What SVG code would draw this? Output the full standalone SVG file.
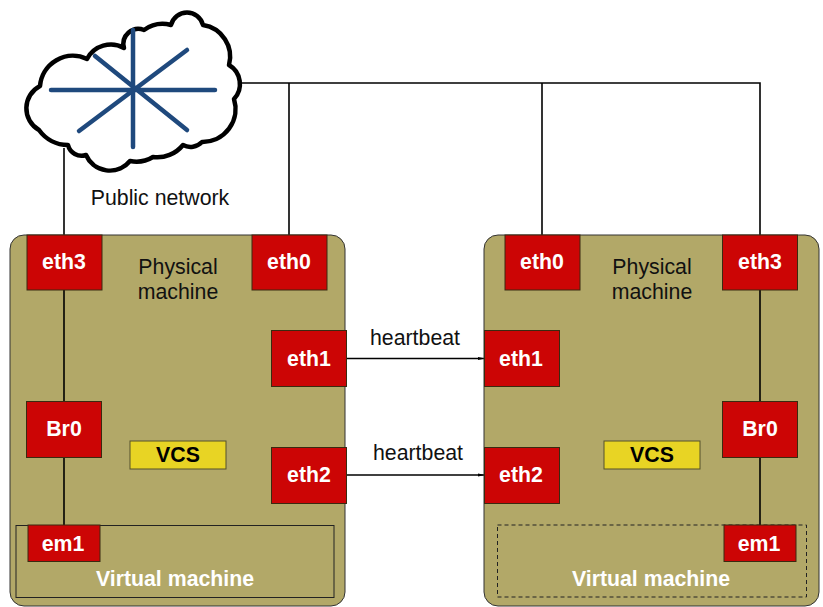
<svg xmlns="http://www.w3.org/2000/svg" width="823" height="607" viewBox="0 0 823 607">
<defs>
<style>
text{font-family:"Liberation Sans",Arial,sans-serif}
.host{fill:#b2a868;stroke:#333;stroke-width:1}
.nic{fill:#cc0505;stroke:#3a2a10;stroke-width:1}
.w{fill:#fff;font-weight:bold;font-size:21.3px;text-anchor:middle}
.k{fill:#111;font-size:21.3px;text-anchor:middle}
.vcs{fill:#e8d424;stroke:#55502a;stroke-width:1}
.vm{fill:none;stroke:#222;stroke-width:1}
.line{fill:none;stroke:#000;stroke-width:1.6}
.spoke{stroke:#1f497d;stroke-width:4.5;stroke-linecap:round}
</style>
<marker id="arrow" markerUnits="userSpaceOnUse" markerWidth="7" markerHeight="6" refX="7" refY="3" orient="auto"><path d="M0,1.500L7,3L0,4.500Z" fill="#000"/></marker>
</defs>
<g id="connectors">
<path class="line" d="M64,148V235"/>
<path class="line" d="M241,83H760V235"/>
<path class="line" d="M289,83V235"/>
<path class="line" d="M542,83V235"/>
<path class="line" d="M346,358.500H485" marker-end="url(#arrow)"/>
<path class="line" d="M346,475H485" marker-end="url(#arrow)"/>
</g>
<g id="machine-left"><rect class="host" x="10" y="235" width="335" height="371" rx="14"/><text class="k" x="178" y="274">Physical</text><text class="k" x="178" y="299">machine</text></g>
<g id="machine-right"><rect class="host" x="484" y="235" width="335" height="371" rx="14"/><text class="k" x="652" y="274">Physical</text><text class="k" x="652" y="299">machine</text></g>
<g id="links-inside"><path class="line" d="M64,290V402M64,457V526"/><path class="line" d="M760,290V402M760,457V526"/></g>
<g id="vm-left"><rect class="vm" x="16" y="525.500" width="318" height="72"/><text class="w" x="175" y="586">Virtual machine</text></g>
<g id="vm-right"><rect class="vm" stroke-dasharray="4 3" x="497.500" y="525" width="309" height="72"/><text class="w" x="651" y="586">Virtual machine</text></g>
<g id="cloud">
<path d="M68,145A36,36 0 0 1 39,130A25,25 0 0 1 40,86A33,33 0 0 1 87,59A27,27 0 0 1 124,48A15,15 0 0 1 144,30A32,32 0 0 1 171,25A16.500,16.500 0 0 1 203,25A32,32 0 0 1 229,65A22,22 0 0 1 234,99A33,33 0 0 1 202,142A16,16 0 0 1 183,145A33,33 0 0 1 153,157A32,32 0 0 1 130,161A26,26 0 0 1 86,155A14,14 0 0 1 68,145Z" fill="#fff" stroke="#000" stroke-width="4.500" stroke-linejoin="round"/>
<path class="spoke" d="M133,30V147M51,90H215M95,56L187,130M79,131L187,50"/>
</g>
<g id="label-public"><text class="k" x="160" y="205">Public network</text></g>
<g id="label-hb1"><text class="k" x="415" y="345">heartbeat</text></g>
<g id="label-hb2"><text class="k" x="418" y="460">heartbeat</text></g>
<g id="l-eth3"><rect class="nic" x="27" y="235" width="75" height="55"/><text class="w" x="64" y="269">eth3</text></g>
<g id="l-eth0"><rect class="nic" x="252" y="235" width="75" height="55"/><text class="w" x="289" y="269">eth0</text></g>
<g id="l-eth1"><rect class="nic" x="271.500" y="330.500" width="75" height="56"/><text class="w" x="309" y="366">eth1</text></g>
<g id="l-eth2"><rect class="nic" x="271.500" y="447.500" width="75" height="56"/><text class="w" x="309" y="482">eth2</text></g>
<g id="l-br0"><rect class="nic" x="26.500" y="401.500" width="75" height="56"/><text class="w" x="64" y="436">Br0</text></g>
<g id="l-vcs"><rect class="vcs" x="130" y="441" width="96" height="28"/><text class="k" style="font-weight:bold;fill:#000" x="178" y="462">VCS</text></g>
<g id="l-em1"><rect class="nic" x="28" y="525" width="72" height="36.500"/><text class="w" x="63" y="551">em1</text></g>
<g id="r-eth0"><rect class="nic" x="505" y="235" width="75" height="55"/><text class="w" x="542" y="269">eth0</text></g>
<g id="r-eth3"><rect class="nic" x="722.500" y="235" width="75" height="55"/><text class="w" x="760" y="269">eth3</text></g>
<g id="r-eth1"><rect class="nic" x="484.500" y="330.500" width="75" height="56"/><text class="w" x="521" y="366">eth1</text></g>
<g id="r-eth2"><rect class="nic" x="484.500" y="447.500" width="75" height="56"/><text class="w" x="521" y="482">eth2</text></g>
<g id="r-br0"><rect class="nic" x="722.500" y="401.500" width="75" height="56"/><text class="w" x="760" y="436">Br0</text></g>
<g id="r-vcs"><rect class="vcs" x="604" y="441" width="96" height="28"/><text class="k" style="font-weight:bold;fill:#000" x="652" y="462">VCS</text></g>
<g id="r-em1"><rect class="nic" x="724" y="525" width="72" height="36.500"/><text class="w" x="759" y="551">em1</text></g>
</svg>
